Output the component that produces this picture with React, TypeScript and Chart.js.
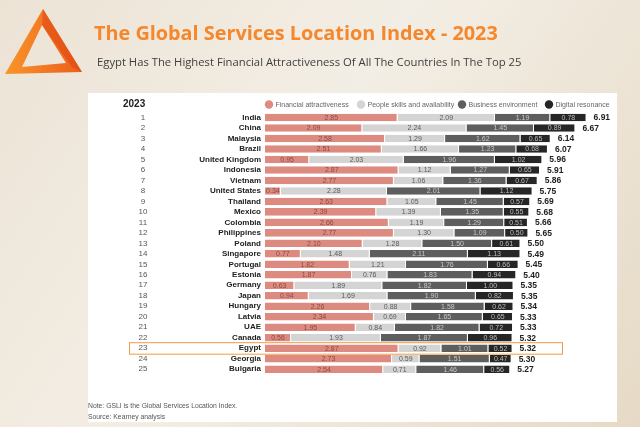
import { useEffect, useRef } from 'react';
import { Chart, registerables } from 'chart.js';
Chart.register(...registerables);

const countries = ['India', 'China', 'Malaysia', 'Brazil', 'United Kingdom', 'Indonesia', 'Vietnam', 'United States', 'Thailand', 'Mexico', 'Colombia', 'Philippines', 'Poland', 'Singapore', 'Portugal', 'Estonia', 'Germany', 'Japan', 'Hungary', 'Latvia', 'UAE', 'Canada', 'Egypt', 'Georgia', 'Bulgaria'];
const ranks = ['1', '2', '3', '4', '5', '6', '7', '8', '9', '10', '11', '12', '13', '14', '15', '16', '17', '18', '19', '20', '21', '22', '23', '24', '25'];
const financial = [2.85, 2.09, 2.58, 2.51, 0.95, 2.87, 2.77, 0.34, 2.63, 2.39, 2.66, 2.77, 2.10, 0.77, 1.82, 1.87, 0.63, 0.94, 2.26, 2.34, 1.95, 0.56, 2.87, 2.73, 2.54];
const people = [2.09, 2.24, 1.29, 1.66, 2.03, 1.12, 1.06, 2.28, 1.05, 1.39, 1.19, 1.30, 1.28, 1.48, 1.21, 0.76, 1.89, 1.69, 0.88, 0.69, 0.84, 1.93, 0.92, 0.59, 0.71];
const business = [1.19, 1.45, 1.62, 1.23, 1.96, 1.27, 1.36, 2.01, 1.45, 1.35, 1.29, 1.09, 1.50, 2.11, 1.76, 1.83, 1.82, 1.90, 1.58, 1.65, 1.82, 1.87, 1.01, 1.51, 1.46];
const digital = [0.78, 0.89, 0.65, 0.68, 1.02, 0.65, 0.67, 1.12, 0.57, 0.55, 0.51, 0.50, 0.61, 1.13, 0.66, 0.94, 1.00, 0.82, 0.62, 0.65, 0.72, 0.96, 0.52, 0.47, 0.56];
const totals = ['6.91', '6.67', '6.14', '6.07', '5.96', '5.91', '5.86', '5.75', '5.69', '5.68', '5.66', '5.65', '5.50', '5.49', '5.45', '5.40', '5.35', '5.35', '5.34', '5.33', '5.33', '5.32', '5.32', '5.30', '5.27'];
const seriesNames = ['Financial attractiveness', 'People skills and availability', 'Business environment', 'Digital resonance'];
const seriesColors = ['#dd8b81', '#d4d4d4', '#5e5e5e', '#262626'];
const labelColors = ['#8a4a42', '#5a5a5a', '#c8c8c8', '#bdbdbd'];
const highlightCountry = 'Egypt';
const titleText = 'The Global Services Location Index - 2023';
const subtitleText = 'Egypt Has The Highest Financial Attractiveness Of All The Countries In The Top 25';
const yearLabel = '2023';
const noteText = 'Note: GSLI is the Global Services Location Index.';
const sourceText = 'Source: Kearney analysis';

const FONT = '"Liberation Sans", Arial, sans-serif';

function fitFont(ctx: CanvasRenderingContext2D, text: string, weight: string, family: string, target: number) {
  ctx.font = `${weight} 20px ${family}`;
  const w = ctx.measureText(text).width;
  const size = (20 * target) / w;
  ctx.font = `${weight} ${size}px ${family}`;
}

const decorPlugin = {
  id: 'decor',
  beforeDraw(chart: any) {
    const ctx: CanvasRenderingContext2D = chart.ctx;
    const W = chart.width, H = chart.height;
    ctx.save();
    const bg = ctx.createLinearGradient(0, 0, W, H);
    bg.addColorStop(0, '#ece3d5');
    bg.addColorStop(0.45, '#f3eee5');
    bg.addColorStop(1, '#e6dac6');
    ctx.fillStyle = bg;
    ctx.fillRect(0, 0, W, H);

    // logo triangle
    const lg = ctx.createLinearGradient(5, 40, 82, 40);
    lg.addColorStop(0, '#f9952a');
    lg.addColorStop(1, '#ec5e1c');
    ctx.fillStyle = lg;
    ctx.beginPath();
    ctx.moveTo(43, 9); ctx.lineTo(82, 72); ctx.lineTo(5, 74); ctx.closePath();
    ctx.moveTo(42, 25); ctx.lineTo(22, 67); ctx.lineTo(66, 63); ctx.closePath();
    ctx.fill('evenodd');
    // darker inner right facet
    ctx.fillStyle = 'rgba(220,70,20,0.55)';
    ctx.beginPath();
    ctx.moveTo(43, 9); ctx.lineTo(82, 72); ctx.lineTo(72, 67); ctx.lineTo(42, 25); ctx.closePath();
    ctx.fill();

    // title
    ctx.fillStyle = '#f5872c';
    ctx.textBaseline = 'middle';
    ctx.textAlign = 'left';
    fitFont(ctx, titleText, 'bold', '"Open Sans", sans-serif', 404);
    ctx.fillText(titleText, 94, 34);
    ctx.fillStyle = '#3e3e3e';
    fitFont(ctx, subtitleText, 'normal', '"Open Sans", sans-serif', 425);
    ctx.fillText(subtitleText, 97, 63);

    // panel
    ctx.fillStyle = '#ffffff';
    ctx.fillRect(88, 93, 529, 329);

    // year header
    ctx.fillStyle = '#222';
    ctx.font = `bold 10px ${FONT}`;
    ctx.fillText(yearLabel, 123, 104);

    // legend
    const legX = [269, 361, 462, 549];
    ctx.font = `7px ${FONT}`;
    seriesNames.forEach((n, i) => {
      ctx.fillStyle = seriesColors[i];
      ctx.beginPath();
      ctx.arc(legX[i], 104.5, 4.2, 0, Math.PI * 2);
      ctx.fill();
      ctx.fillStyle = '#666';
      ctx.fillText(n, legX[i] + 6.5, 105);
    });

    // ranks
    const y = chart.scales.y;
    ctx.fillStyle = '#555';
    ctx.font = `8px ${FONT}`;
    ctx.textAlign = 'center';
    ranks.forEach((r, i) => {
      ctx.fillText(r, 143, y.getPixelForValue(i));
    });

    // notes
    ctx.textAlign = 'left';
    ctx.fillStyle = '#555';
    ctx.font = `6.8px ${FONT}`;
    ctx.fillText(noteText, 88, 406);
    ctx.fillText(sourceText, 88, 417);
    ctx.restore();
  },
  afterDatasetsDraw(chart: any) {
    const ctx: CanvasRenderingContext2D = chart.ctx;
    ctx.save();
    ctx.textBaseline = 'middle';
    ctx.textAlign = 'center';
    ctx.font = `7px ${FONT}`;
    chart.data.datasets.forEach((ds: any, di: number) => {
      const meta = chart.getDatasetMeta(di);
      meta.data.forEach((el: any, i: number) => {
        const cx = (el.x + el.base) / 2;
        ctx.fillStyle = labelColors[di];
        ctx.fillText((ds.data[i] as number).toFixed(2), cx, el.y + 0.5);
      });
    });
    const last = chart.getDatasetMeta(3);
    ctx.textAlign = 'left';
    ctx.fillStyle = '#222';
    ctx.font = `bold 8.5px ${FONT}`;
    last.data.forEach((el: any, i: number) => {
      ctx.fillText(totals[i], el.x + 7, el.y + 0.5);
    });
    // highlight box
    const hi = countries.indexOf(highlightCountry);
    const yy = chart.scales.y.getPixelForValue(hi);
    ctx.strokeStyle = '#f39a45';
    ctx.lineWidth = 1;
    ctx.strokeRect(129.5, yy - 5.5, 433, 11.5);
    ctx.restore();
  },
};

export default function App() {
  const ref = useRef<HTMLCanvasElement>(null);
  useEffect(() => {
    document.body.style.margin = '0';
    const data = [financial, people, business, digital];
    const chart = new Chart(ref.current!, {
      type: 'bar',
      data: {
        labels: countries,
        datasets: data.map((d, i) => ({
          label: seriesNames[i],
          data: d,
          backgroundColor: seriesColors[i],
          borderColor: '#ffffff',
          borderWidth: { top: 0, bottom: 0, left: 0, right: 1 },
          borderSkipped: false,
          barPercentage: 0.72,
          categoryPercentage: 1,
        })),
      },
      options: {
        indexAxis: 'y',
        responsive: false,
        animation: false,
        layout: { padding: { top: 112.3, bottom: 52.6, right: 26, left: 0 } },
        plugins: { legend: { display: false }, tooltip: { enabled: false } },
        scales: {
          x: { stacked: true, min: 0, max: 7.5, display: false },
          y: {
            stacked: true,
            grid: { display: false, drawTicks: false },
            border: { display: false },
            ticks: { font: { family: FONT, size: 8, weight: 'bold' }, color: '#222', padding: 4, autoSkip: false },
            afterFit: (s: any) => { s.width = 265; },
          },
        },
      },
      plugins: [decorPlugin],
    } as any);
    return () => chart.destroy();
  }, []);
  return (
    <div style={{ width: 640, height: 427 }}>
      <canvas ref={ref} width={640} height={427} />
    </div>
  );
}
